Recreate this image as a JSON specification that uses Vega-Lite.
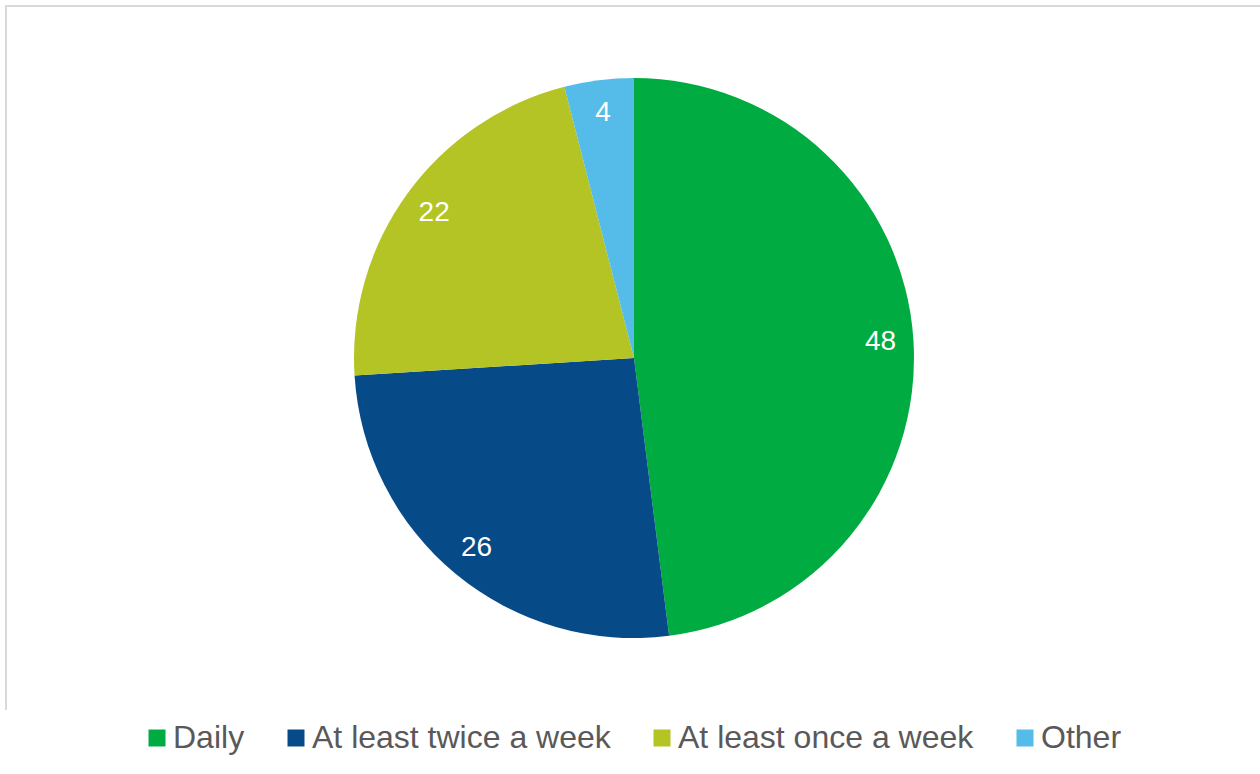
{
  "$schema": "https://vega.github.io/schema/vega-lite/v6.json",
  "autosize": "none",
  "padding": {"left": 6, "top": 6, "right": 0, "bottom": 64},
  "width": 1256,
  "height": 704,
  "background": "white",
  "view": {"stroke": "#d9d9d9", "strokeWidth": 2, "strokeDash": [1960, 1256, 900]},
  "config": {
    "font": "Liberation Sans"
  },
  "data": {
    "values": [
      {"category": "Daily", "value": 48, "rank": 1},
      {"category": "At least twice a week", "value": 26, "rank": 2},
      {"category": "At least once a week", "value": 22, "rank": 3},
      {"category": "Other", "value": 4, "rank": 4}
    ]
  },
  "encoding": {
    "theta": {"field": "value", "type": "quantitative", "stack": true},
    "order": {"field": "rank", "type": "quantitative"}
  },
  "layer": [
    {
      "mark": {"type": "arc", "outerRadius": 280, "stroke": null},
      "encoding": {
        "color": {
          "field": "category",
          "type": "nominal",
          "scale": {
            "domain": ["Daily", "At least twice a week", "At least once a week", "Other"],
            "range": ["#00AC41", "#064A87", "#B3C424", "#55BBE8"]
          },
          "legend": {
            "title": null,
            "orient": "none",
            "legendX": 135,
            "legendY": 716,
            "padding": 0,
            "direction": "horizontal",
            "columns": 4,
            "columnPadding": 35,
            "symbolType": "square",
            "symbolSize": 289,
            "symbolStrokeWidth": 0,
            "labelFontSize": 32,
            "labelColor": "#595959",
            "labelFont": "Liberation Sans",
            "labelOffset": 0,
            "labelLimit": 0
          }
        }
      }
    },
    {
      "mark": {"type": "text", "radius": 247, "fontSize": 28, "color": "white", "font": "Liberation Sans"},
      "encoding": {
        "text": {"field": "value", "type": "quantitative"}
      }
    }
  ]
}
